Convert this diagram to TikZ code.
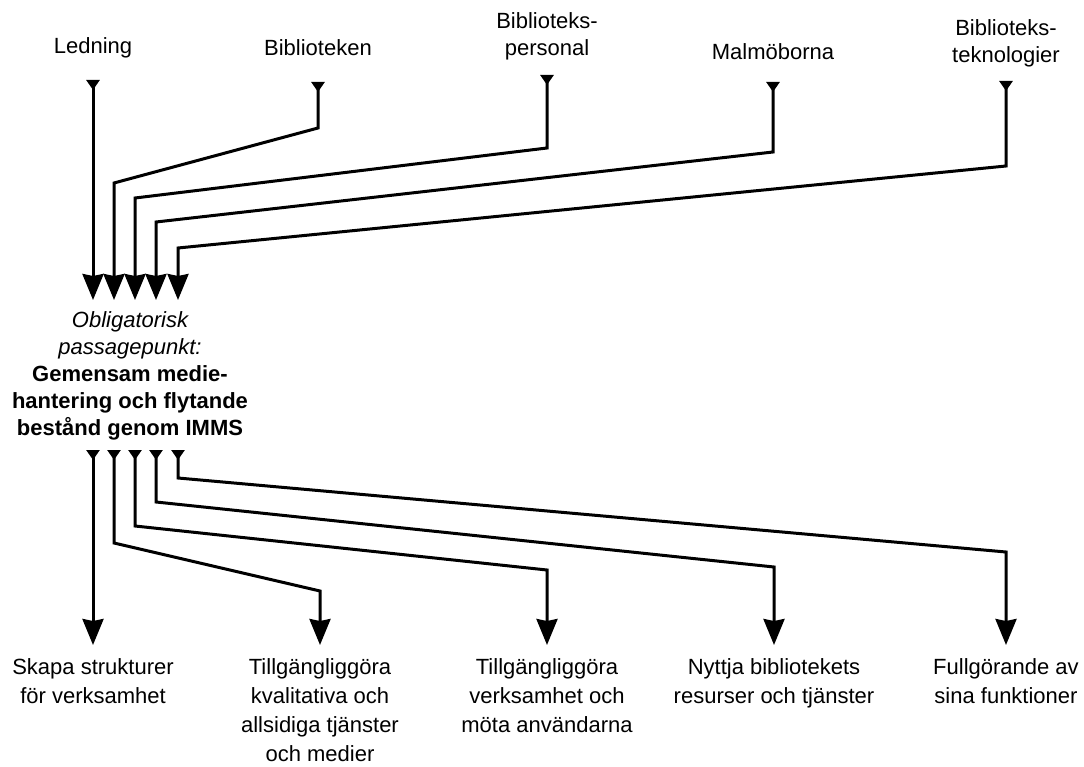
\documentclass[tikz,border=0pt]{standalone}
\usepackage{fontspec}
\setmainfont{Liberation Sans}
\usetikzlibrary{arrows.meta}
\tikzset{
  lbl/.style={font=\fontsize{22}{27}\selectfont, align=center, inner sep=0pt},
  blbl/.style={font=\fontsize{22}{29}\selectfont, align=center, inner sep=0pt, anchor=north},
  srcflow/.style={line width=3pt, {Triangle[reversed,length=10pt,width=13pt]}-{Stealth[length=26pt,width=21pt,inset=2pt]}},
}
\begin{document}
\begin{tikzpicture}[x=1pt,y=-1pt]
\useasboundingbox[fill=white] (0,0) rectangle (1084,767);

% top labels
\node[lbl] (ledning) at (93,48) {Ledning};
\node[lbl] (bibl) at (318,48) {Biblioteken};
\node[lbl] (pers) at (547,36) {Biblioteks-\\personal};
\node[lbl] (malmo) at (773,52) {Malmöborna};
\node[lbl] (tekn) at (1006,43) {Biblioteks-\\teknologier};

% central node
\node[lbl] (opp) at (130,376) {\itshape Obligatorisk\\\itshape passagepunkt:\\\bfseries Gemensam medie-\\\bfseries hantering och flytande\\\bfseries bestånd genom IMMS};

% bottom labels
\node[blbl] (skapa) at (93,658) {Skapa strukturer\\för verksamhet};
\node[blbl] (kval) at (320,658) {Tillgängliggöra\\kvalitativa och\\allsidiga tjänster\\och medier};
\node[blbl] (verk) at (547,658) {Tillgängliggöra\\verksamhet och\\möta användarna};
\node[blbl] (nyttja) at (774,658) {Nyttja bibliotekets\\resurser och tjänster};
\node[blbl] (full) at (1006,658) {Fullgörande av\\sina funktioner};

% top start points
\coordinate (t1) at (93,80);
\coordinate (t2) at (318,82);
\coordinate (t3) at (547,75);
\coordinate (t4) at (773,82);
\coordinate (t5) at (1006,81);
% entry points into central node
\coordinate (c1) at (93,300);
\coordinate (c2) at (114,300);
\coordinate (c3) at (135,300);
\coordinate (c4) at (156,300);
\coordinate (c5) at (178,300);
% exit points from central node
\coordinate (o1) at (93,450);
\coordinate (o2) at (114,450);
\coordinate (o3) at (135,450);
\coordinate (o4) at (156,450);
\coordinate (o5) at (178,450);
% bottom arrow ends
\coordinate (b1) at (93,645);
\coordinate (b2) at (320,645);
\coordinate (b3) at (547,645);
\coordinate (b4) at (774,645);
\coordinate (b5) at (1006,645);

% incoming connectors
\draw[srcflow] (t1) -- (c1);
\draw[srcflow] (t2) -- (318,128) -- (114,183) -- (c2);
\draw[srcflow] (t3) -- (547,148) -- (135,198) -- (c3);
\draw[srcflow] (t4) -- (773,152) -- (156,222) -- (c4);
\draw[srcflow] (t5) -- (1006,166) -- (178,248) -- (c5);

% outgoing connectors
\draw[srcflow] (o1) -- (b1);
\draw[srcflow] (o2) -- (114,543) -- (320,591) -- (b2);
\draw[srcflow] (o3) -- (135,526) -- (547,570) -- (b3);
\draw[srcflow] (o4) -- (156,502) -- (774,567) -- (b4);
\draw[srcflow] (o5) -- (178,478) -- (1006,552) -- (b5);
\end{tikzpicture}
\end{document}
